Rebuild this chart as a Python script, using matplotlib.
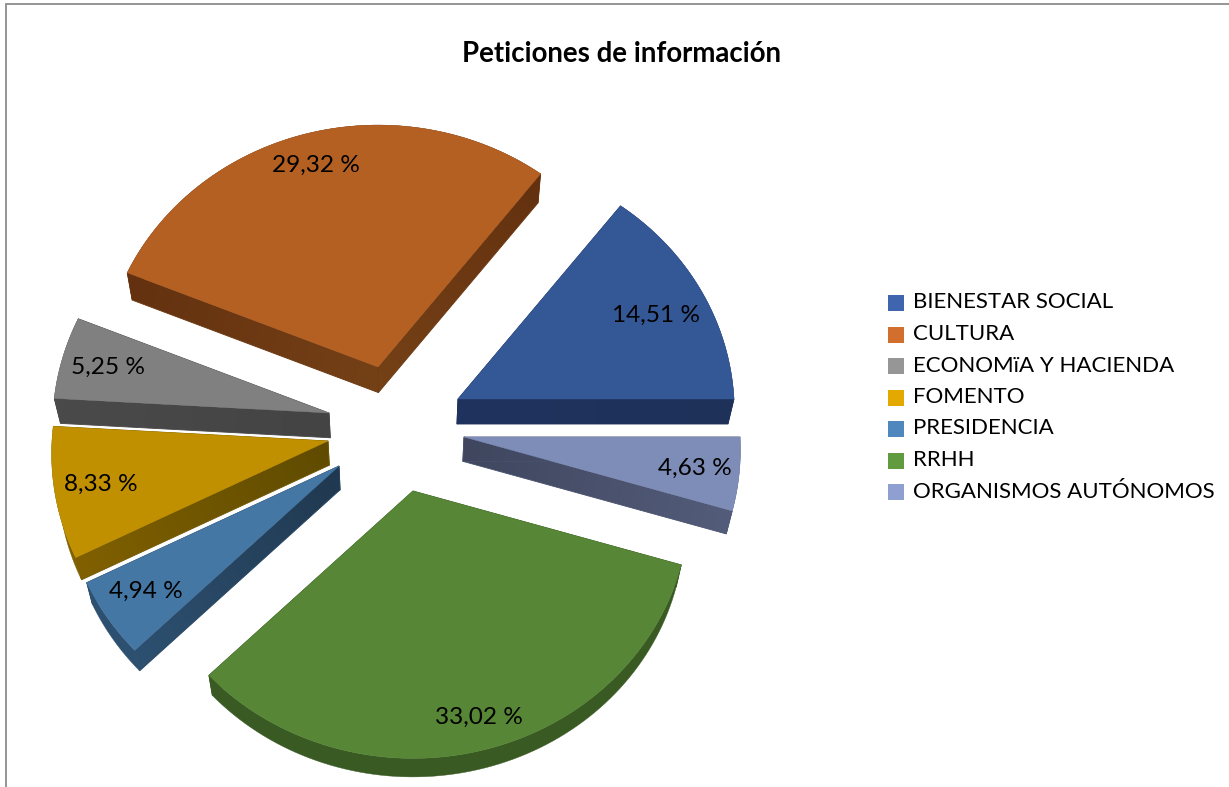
import matplotlib
matplotlib.use('Agg')
import matplotlib.pyplot as plt
from matplotlib.patches import Polygon, Rectangle
import matplotlib.colors as mcolors
import numpy as np

# Data
categories = ['BIENESTAR SOCIAL', 'CULTURA', 'ECONOMïA Y HACIENDA', 'FOMENTO',
              'PRESIDENCIA', 'RRHH', 'ORGANISMOS AUTÓNOMOS']
values = [14.51, 29.32, 5.25, 8.33, 4.94, 33.02, 4.63]
value_labels = ['14,51 %', '29,32 %', '5,25 %', '8,33 %', '4,94 %', '33,02 %', '4,63 %']

# Colors
TOP_COLORS = ['#345796', '#b46023', '#808080', '#c09000', '#4577a4', '#568636', '#7e8db7']
LEGEND_COLORS = ['#3e65ae', '#d26f2c', '#969696', '#e3a900', '#4f88bd', '#619a3f', '#8f9fd1']
SIDE_INNER = ['#20335f', '#744016', '#444444', '#5f4b00', '#20384f', '#34521f', '#3f465e']
SIDE_OUTER = ['#1e3159', '#643110', '#4a4a4a', '#806000', '#2d5070', '#3a5a24', '#535c7a']

# Layout, all in picture pixels
RX, RY, PERSP = 276, 254, 0.05
TIPS = [(458, 399), (378, 367), (329, 413), (328, 441), (339, 466), (413, 491), (464, 437)]
LABEL_POS = [(656, 315.5), (316, 165), (108, 367.5), (101, 484.5), (146, 591.5), (479, 717.5), (695, 468.5)]
DRAW_ORDER = [1, 0, 2, 3, 6, 4, 5]
LEGEND_Y = [303, 334.5, 366, 397.5, 429, 460.5, 492]

plt.rcParams.update({'font.family': ['Lato', 'DejaVu Sans']})

fig = plt.figure(figsize=(12.29, 7.87), dpi=100)
ax = fig.add_axes([0, 0, 1, 1])


def rim(tip, t):
    # point on the tilted disc, front of the pie slightly larger than the back
    w = 1 + PERSP * np.sin(t)
    return np.column_stack([tip[0] + RX * np.cos(t) / w, tip[1] - RY * np.sin(t) / w])


def extrude(pts):
    # lower edge of the pie side for a point on the top face
    pts = np.atleast_2d(pts)
    out = np.empty_like(pts, dtype=float)
    out[:, 0] = pts[:, 0] - 0.018 * (pts[:, 0] - 400)
    out[:, 1] = pts[:, 1] + 25 - 0.018 * (pts[:, 1] - 400)
    return out


def radial_face(a, b, c0, c1, z):
    # cut face of a slice, fading from c0 at the tip to c1 at the rim
    quad = np.vstack([a, b, extrude(b), extrude(a)])
    c0, c1 = np.array(mcolors.to_rgb(c0)), np.array(mcolors.to_rgb(c1))
    x0, x1 = quad[:, 0].min() - 1, quad[:, 0].max() + 1
    y0, y1 = quad[:, 1].min() - 1, quad[:, 1].max() + 1
    xx, yy = np.meshgrid(np.linspace(x0, x1, 120), np.linspace(y0, y1, 120))
    d = b - a
    f = np.clip(((xx - a[0]) * d[0] + (yy - a[1]) * d[1]) / (d @ d), 0, 1)[..., None]
    im = ax.imshow(c0 + (c1 - c0) * f, extent=(x0, x1, y1, y0), origin='upper',
                   interpolation='bilinear', aspect='auto', zorder=z)
    patch = Polygon(quad, closed=True, facecolor='none', edgecolor=(c0 + c1) / 2, linewidth=0.6, zorder=z)
    ax.add_patch(patch)
    im.set_clip_path(patch)


angles = np.radians(np.concatenate([[0], np.cumsum(values)]) * 3.6)

for k, idx in enumerate(DRAW_ORDER):
    tip = np.array(TIPS[idx], dtype=float)
    t = np.linspace(angles[idx], angles[idx + 1], 80)
    arc = rim(tip, t)
    top = np.vstack([tip, arc])
    base = 10 + k * 5

    # thin light outline around each slice
    ax.add_patch(Polygon(top, closed=True, facecolor='white', edgecolor='white', linewidth=2, zorder=base))
    ax.add_patch(Polygon(extrude(top), closed=True, facecolor='white', edgecolor='white', linewidth=2, zorder=base))

    radial_face(tip, arc[0], SIDE_INNER[idx], SIDE_OUTER[idx], base + 1)
    radial_face(tip, arc[-1], SIDE_INNER[idx], SIDE_OUTER[idx], base + 1)
    outer = np.vstack([arc, extrude(arc)[::-1]])
    ax.add_patch(Polygon(outer, closed=True, facecolor=SIDE_OUTER[idx], edgecolor=SIDE_OUTER[idx],
                         linewidth=0.3, zorder=base + 1))

    ax.add_patch(Polygon(top, closed=True, facecolor=TOP_COLORS[idx], edgecolor=TOP_COLORS[idx],
                         linewidth=0.3, zorder=base + 2))

for pos, label in zip(LABEL_POS, value_labels):
    ax.text(pos[0], pos[1], label, ha='center', va='center', fontsize=17.6, color='black', zorder=60)

ax.text(621, 54.5, 'Peticiones de información', ha='center', va='center', fontsize=19.9,
        fontweight='bold', color='black')

# Legend
for name, color, y in zip(categories, LEGEND_COLORS, LEGEND_Y):
    ax.add_patch(Rectangle((888, y - 8), 16, 16, facecolor=color, edgecolor='none'))
    ax.text(913, y - 0.5, name, ha='left', va='center', fontsize=16, color='black')

# Chart frame
ax.plot([5.5, 5.5, 1229], [787, 4, 4], color='#8c8c8c', linewidth=1.3, solid_joinstyle='miter')

ax.set_xlim(0, 1229)
ax.set_ylim(787, 0)
ax.axis('off')

fig.savefig('out.png', dpi=100)
